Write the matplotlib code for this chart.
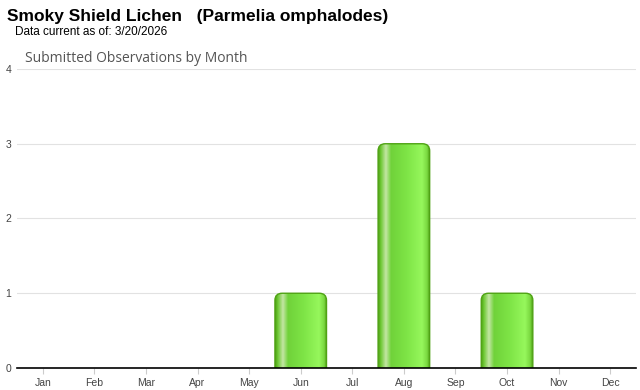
import numpy as np
import matplotlib
matplotlib.use("Agg")
from matplotlib import pyplot as plt
from matplotlib.patches import FancyBboxPatch
from matplotlib.colors import LinearSegmentedColormap

months = ["Jan", "Feb", "Mar", "Apr", "May", "Jun", "Jul", "Aug", "Sep", "Oct", "Nov", "Dec"]
counts = [0, 0, 0, 0, 0, 1, 0, 3, 0, 1, 0, 0]
yticks = [0, 1, 2, 3, 4]

title = "Smoky Shield Lichen   (Parmelia omphalodes)"
subtitle = "Data current as of: 3/20/2026"
chart_title = "Submitted Observations by Month"

plt.rcParams['font.family'] = ['Liberation Sans', 'DejaVu Sans']

fig = plt.figure(figsize=(6.4, 3.9), dpi=100)
ax = fig.add_axes([17/640, 22/390, 619/640, 299/390])

# horizontal gradient for the "glossy" bars
grad = LinearSegmentedColormap.from_list("bar", [
    (0.0, "#4e9e14"), (0.05, "#6cc832"), (0.15, "#c4e6a4"), (0.25, "#70d23a"),
    (0.55, "#7ee446"), (0.85, "#96f75c"), (0.95, "#7ad840"), (1.0, "#4e9e14")])
gimg = np.linspace(0, 1, 200).reshape(1, -1)

bw = 1.0
rx, ry = 0.14, 0.095
for i, v in enumerate(counts):
    if v <= 0:
        continue
    x0 = i - bw/2
    box = FancyBboxPatch((x0, -ry*2), bw, v + ry*2,
                         boxstyle="round,pad=0,rounding_size=%f" % rx,
                         mutation_aspect=ry/rx, facecolor="none",
                         edgecolor="#4fa314", lw=1.0, zorder=3)
    ax.add_patch(box)
    im = ax.imshow(gimg, cmap=grad, aspect="auto", extent=[x0, x0 + bw, -ry*2, v],
                   zorder=2, interpolation="bilinear")
    im.set_clip_path(box)

ax.set_xlim(-0.5, 11.5)
ax.set_ylim(0, 4)
ax.set_xticks(range(len(months)))
ax.set_xticklabels(months, fontsize=7.5, color="#444444")
ax.set_yticks(yticks)
ax.set_yticklabels([str(t) for t in yticks], fontsize=7.5, color="#444444")
ax.tick_params(axis="x", length=4, color="#cccccc", pad=3)
ax.tick_params(axis="y", length=0, pad=4)
for t in yticks[1:]:
    ax.axhline(t, color="#e2e2e2", lw=0.8, zorder=1)
for s in ["top", "right", "left"]:
    ax.spines[s].set_visible(False)
ax.spines["bottom"].set_color("black")
ax.spines["bottom"].set_linewidth(1.2)
ax.spines["bottom"].set_zorder(4)

fig.text(7/640, 1 - 16/390, title, fontsize=12.5, fontweight="bold", va="center")
fig.text(15/640, 1 - 32/390, subtitle, fontsize=8.5, va="center")
fig.text(25/640, 1 - 58/390, chart_title, fontsize=10, color="#555555", va="center",
         family=["Open Sans", "DejaVu Sans"])

fig.savefig("out.png", dpi=100)
